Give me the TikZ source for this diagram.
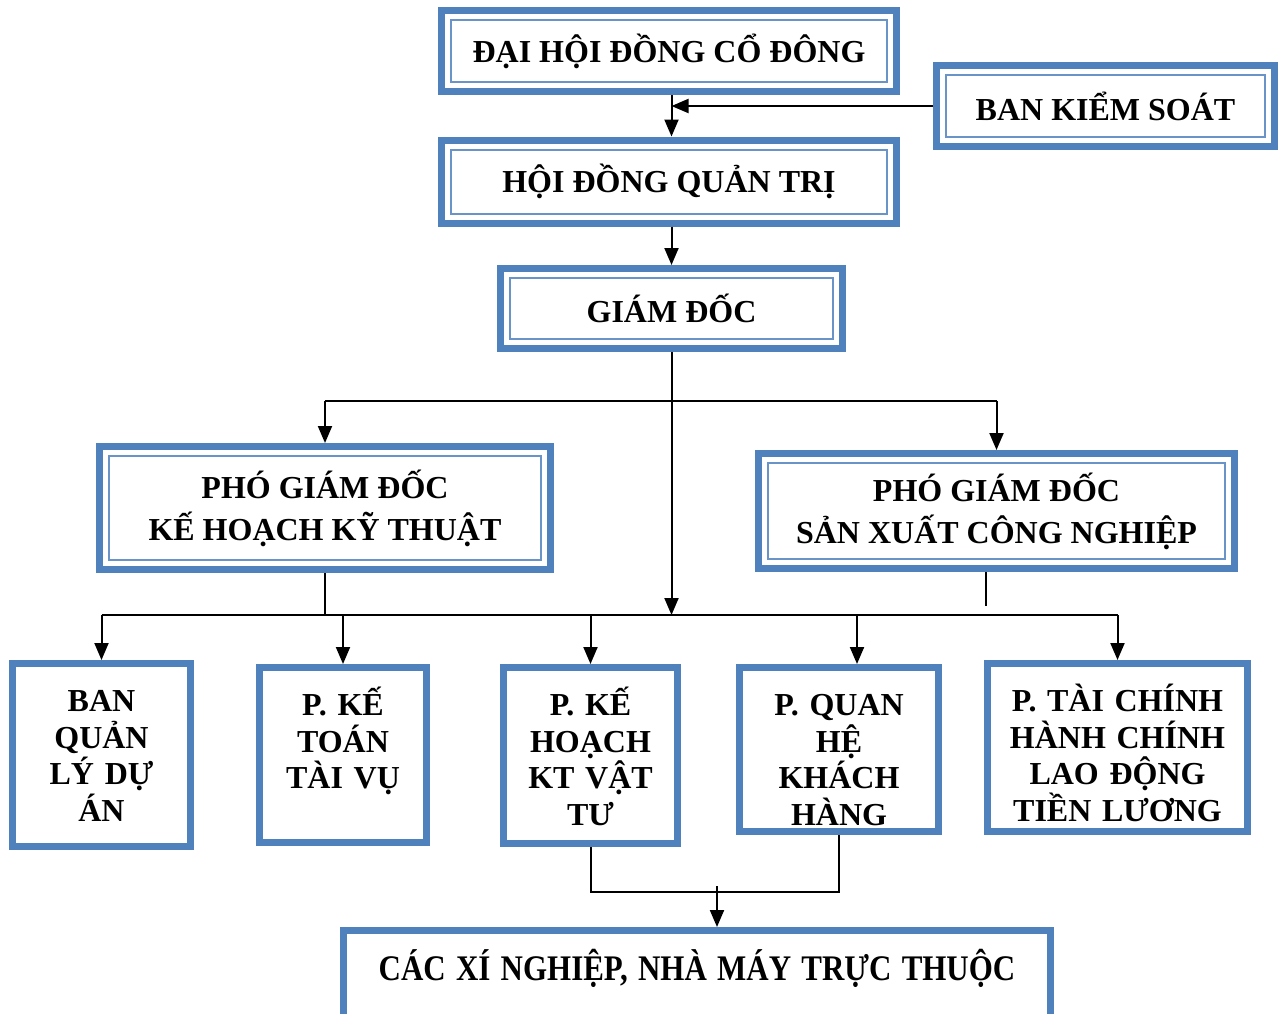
\documentclass[tikz,border=0pt]{standalone}
\usepackage{fontspec}
\setmainfont{Liberation Serif}
\usetikzlibrary{arrows.meta,calc}
\definecolor{boxblue}{HTML}{4F81BD}
\tikzset{
	dblbox/.style={draw=boxblue, line width=7pt, fill=white, inner sep=0pt, align=center,
		font=\fontsize{32}{42}\selectfont\bfseries,
		path picture={\draw[boxblue!85, line width=2pt]
			([shift={(9.5pt,-9.5pt)}]path picture bounding box.north west) rectangle
			([shift={(-9.5pt,9.5pt)}]path picture bounding box.south east);}},
	lowbox/.style={draw=boxblue, line width=7pt, fill=white, inner sep=0pt, align=center,
		text height=48pt, font=\fontsize{32}{36.5}\selectfont\bfseries},
	conn/.style={line width=2pt},
	arr/.style={conn, -{Triangle[length=17pt,width=14pt]}}
}
\begin{document}
\begin{tikzpicture}[x=1pt, y=-1pt]
			%%%%% START %%%%%
			\useasboundingbox (0,0) rectangle (1280,1013);
			
			\node[dblbox, minimum width=455pt, minimum height=81pt] (dhcd) at (669,51) {ĐẠI HỘI ĐỒNG CỔ ĐÔNG};
			\node[dblbox, minimum width=338pt, minimum height=81pt] (bks) at (1105.5,106) {BAN KIỂM SOÁT};
			\node[dblbox, minimum width=455pt, minimum height=83pt] (hdqt) at (669,181.5) {HỘI ĐỒNG QUẢN TRỊ};
			\node[dblbox, minimum width=342pt, minimum height=80pt] (gd) at (671.5,308.5) {GIÁM ĐỐC};
			
			\node[dblbox, minimum width=451pt, minimum height=123pt] (pgdkt) at (325,508) {PHÓ GIÁM ĐỐC\\KẾ HOẠCH KỸ THUẬT};
			\node[dblbox, minimum width=476pt, minimum height=115pt] (pgdsx) at (996.5,511) {PHÓ GIÁM ĐỐC\\SẢN XUẤT CÔNG NGHIỆP};
			
			\node[lowbox, text width=178pt, text depth=135pt] (bqlda) at (101.5,755) {BAN\\QUẢN\\LÝ DỰ\\ÁN};
			\node[lowbox, text width=167pt, text depth=127pt] (pkt) at (343,755) {P. KẾ\\TOÁN\\TÀI VỤ};
			\node[lowbox, text width=174pt, text depth=128pt] (pkh) at (590.5,755.5) {P. KẾ\\HOẠCH\\KT VẬT\\TƯ};
			\node[lowbox, text width=199pt, text depth=116pt] (pqh) at (839,749.5) {P. QUAN\\HỆ\\KHÁCH\\HÀNG};
			\node[lowbox, text width=260pt, text depth=120pt] (ptc) at (1117.5,747.5) {P. TÀI CHÍNH\\HÀNH CHÍNH\\LAO ĐỘNG\\TIỀN LƯƠNG};
			
			\node[lowbox, text width=707pt, text height=49.5pt, text depth=40.5pt,
				font=\fontsize{36}{40}\selectfont\bfseries] (xn) at (697,975.5) {\scalebox{0.86}[1]{CÁC XÍ NGHIỆP, NHÀ MÁY TRỰC THUỘC}};
			
			%%%%% LINES %%%%%
			\coordinate (split) at (671.5,401);
			\coordinate (bus) at (671.5,615);
			\coordinate (sxend) at (986,606);
			\coordinate (join) at (717,892);
			
			\draw[arr] (dhcd.south -| gd.north) -- (hdqt.north -| gd.north);
			\draw[arr] (bks.west) -- (bks.west -| gd.north);
			\draw[arr] (hdqt.south -| gd.north) -- (gd.north);
			\draw[arr] (gd.south) -- (gd.south |- bus);
			
			\draw[conn] (pgdkt.north |- split) -- (pgdsx.north |- split);
			\draw[arr] (pgdkt.north |- split) -- (pgdkt.north);
			\draw[arr] (pgdsx.north |- split) -- (pgdsx.north);
			
			\draw[conn] (pgdkt.south) -- (pgdkt.south |- bus);
			\draw[conn] (sxend |- pgdsx.south) -- (sxend);
			
			\draw[conn] (bqlda.north |- bus) -- (ptc.north |- bus);
			\draw[arr] (bqlda.north |- bus) -- (bqlda.north);
			\draw[arr] (pkt.north |- bus) -- (pkt.north);
			\draw[arr] (pkh.north |- bus) -- (pkh.north);
			\draw[arr] ([xshift=18pt]pqh.north |- bus) -- ([xshift=18pt]pqh.north);
			\draw[arr] (ptc.north |- bus) -- (ptc.north);
			
			\draw[conn] (pkh.south) -- (pkh.south |- join) -- (pqh.south |- join) -- (pqh.south);
			\draw[arr] ([yshift=6pt]join) -- (join |- xn.north);
			%%%%% END %%%%%
\end{tikzpicture}
\end{document}
